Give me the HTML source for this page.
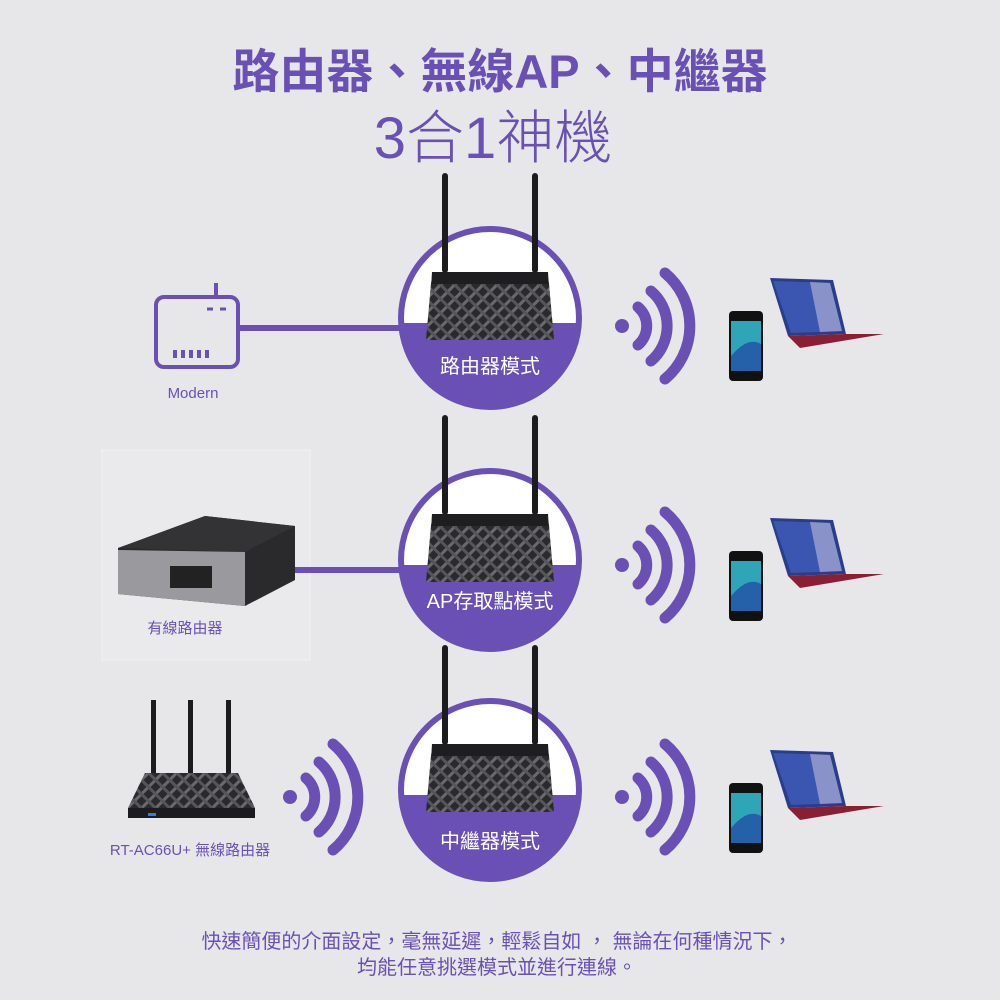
<!DOCTYPE html>
<html><head><meta charset="utf-8"><style>
html,body{margin:0;padding:0;background:#e7e7e9;}
svg{display:block}
text{font-family:"Liberation Sans","Noto Sans CJK TC",sans-serif;}
</style></head><body>
<svg width="1000" height="1000" viewBox="0 0 1000 1000" xmlns="http://www.w3.org/2000/svg">
<defs>
<pattern id="plaid" width="10" height="10" patternUnits="userSpaceOnUse" patternTransform="rotate(45)">
<rect width="10" height="10" fill="#2a2a2c"/>
<rect width="3" height="10" fill="#6a6a6e"/>
<rect width="10" height="3" fill="#55555a"/>
</pattern>
<clipPath id="cc"><circle cx="0" cy="0" r="89"/></clipPath>
<g id="node">
<circle cx="0" cy="0" r="89" fill="#fff"/>
<rect x="-95" y="5" width="190" height="100" fill="#6a50b5" clip-path="url(#cc)"/>
<circle cx="0" cy="0" r="89" fill="none" stroke="#6a50b5" stroke-width="6"/>
<rect x="-48" y="-145" width="6" height="100" rx="3" fill="#1c1c1e"/>
<rect x="42" y="-145" width="6" height="100" rx="3" fill="#1c1c1e"/>
<path d="M-58,-46 L58,-46 L64,22 L-64,22 Z" fill="url(#plaid)"/>
<rect x="-58" y="-46" width="116" height="12" fill="#1e1e20"/>
</g>
<g id="wifi" fill="none" stroke="#6a50b5" stroke-width="11" stroke-linecap="round">
<circle cx="0" cy="0" r="7" fill="#6a50b5" stroke="none"/>
<path d="M16,-19 A25,25 0 0 1 16,19"/>
<path d="M29,-35 A46,46 0 0 1 29,35"/>
<path d="M43,-53 A69,69 0 0 1 43,53"/>
</g>
<g id="devs">
<rect x="729" y="-15" width="34" height="70" rx="4" fill="#111"/>
<rect x="731" y="-5" width="30" height="50" fill="#2fa6b8"/>
<path d="M731,30 Q748,10 761,18 L761,45 L731,45 Z" fill="#2561a8"/>
<path d="M770,-48 L833,-46 L846,8 L788,10 Z" fill="#2a3d8a"/>
<path d="M773,-45 L830,-43 L842,5 L791,7 Z" fill="#3b56b0"/>
<path d="M810,-44 L830,-43 L842,5 L820,6 Z" fill="#8a93c9"/>
<path d="M788,10 L846,8 L884,8 L800,22 Z" fill="#8a1f33"/>
</g>
</defs>

<text x="500" y="88" text-anchor="middle" font-size="47" font-weight="bold" fill="#6a50b5">路由器、無線AP、中繼器</text>
<text x="493" y="158" text-anchor="middle" font-size="58" font-weight="300" fill="#6a50b5">3合1神機</text>

<!-- row 1 -->
<line x1="238" y1="328" x2="402" y2="328" stroke="#6a50b5" stroke-width="6"/>
<rect x="156" y="297" width="82" height="70" rx="8" fill="none" stroke="#6a50b5" stroke-width="4"/>
<line x1="216" y1="283" x2="216" y2="297" stroke="#6a50b5" stroke-width="4"/>
<line x1="207" y1="309" x2="213" y2="309" stroke="#6a50b5" stroke-width="3"/>
<line x1="220" y1="309" x2="226" y2="309" stroke="#6a50b5" stroke-width="3"/>
<g fill="#6a50b5"><rect x="173" y="350" width="4" height="8"/><rect x="181" y="350" width="4" height="8"/><rect x="189" y="350" width="4" height="8"/><rect x="197" y="350" width="4" height="8"/><rect x="205" y="350" width="4" height="8"/></g>
<text x="193" y="398" text-anchor="middle" font-size="15" fill="#6a50b5">Modern</text>
<use href="#node" x="490" y="318"/>
<text x="490" y="373" text-anchor="middle" font-size="20" fill="#fff">路由器模式</text>
<use href="#wifi" x="622" y="326"/>
<use href="#devs" x="0" y="326"/>

<!-- row 2 -->
<rect x="102" y="450" width="208" height="210" fill="#eaeaec" stroke="#f2f2f4"/>
<line x1="275" y1="570" x2="402" y2="570" stroke="#6a50b5" stroke-width="6"/>
<path d="M118,548 L205,516 L295,526 L295,580 L245,606 L118,594 Z" fill="#2a2a2c"/>
<path d="M118,548 L205,516 L295,526 L245,552 Z" fill="#333336"/>
<path d="M118,550 L245,552 L245,606 L118,594 Z" fill="#9a9a9e"/>
<rect x="170" y="566" width="42" height="22" fill="#222"/>
<text x="185" y="633" text-anchor="middle" font-size="15" fill="#6a50b5">有線路由器</text>
<use href="#node" x="490" y="560"/>
<text x="490" y="608" text-anchor="middle" font-size="20" fill="#fff">AP存取點模式</text>
<use href="#wifi" x="622" y="565"/>
<use href="#devs" x="0" y="566"/>

<!-- row 3 -->
<g fill="#1c1c1e">
<rect x="151" y="700" width="5" height="75"/><rect x="188" y="700" width="5" height="75"/><rect x="226" y="700" width="5" height="75"/>
<path d="M145,773 L238,773 L255,808 L255,818 L128,818 L128,808 Z" fill="url(#plaid)"/>
<rect x="128" y="808" width="127" height="10"/>
</g>
<rect x="148" y="813" width="8" height="3" fill="#3a7bd5"/>
<text x="190" y="855" text-anchor="middle" font-size="15" fill="#6a50b5">RT-AC66U+ 無線路由器</text>
<use href="#wifi" x="290" y="797"/>
<use href="#node" x="490" y="790"/>
<text x="490" y="848" text-anchor="middle" font-size="20" fill="#fff">中繼器模式</text>
<use href="#wifi" x="622" y="797"/>
<use href="#devs" x="0" y="798"/>

<text x="497" y="948" text-anchor="middle" font-size="20" fill="#6a50b5">快速簡便的介面設定，毫無延遲，輕鬆自如 ， 無論在何種情況下，</text>
<text x="497" y="974" text-anchor="middle" font-size="20" fill="#6a50b5">均能任意挑選模式並進行連線。</text>
</svg>
</body></html>
